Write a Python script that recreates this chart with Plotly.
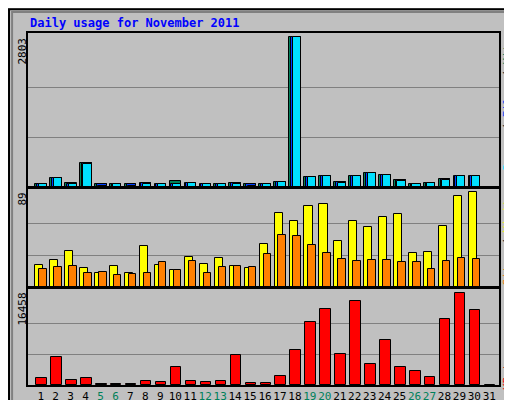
import plotly.graph_objects as go

days = list(range(1, 32))
hits   = [50,160,80,440,50,50,63,82,50,120,82,63,63,82,50,63,100,2803,178,197,100,197,254,222,140,63,82,158,215,197,0]
files  = [50,160,63,440,50,50,63,82,50,63,82,63,63,82,50,63,100,2803,178,197,100,197,254,222,140,63,82,158,215,197,0]
pages  = [50,160,63,425,25,50,25,63,50,63,82,50,50,63,25,63,100,2803,178,197,82,197,254,222,120,63,82,140,197,197,0]
visits = [21,25,34,18,13,20,13,38,21,16,28,22,27,20,18,40,69,62,76,78,43,62,56,66,68,32,33,57,85,89,0]
sites  = [17,19,20,13,14,11,12,13,23,16,24,13,19,20,19,31,49,48,39,32,26,24,25,25,23,23,17,24,27,26,0]
kbytes = [1320,4930,960,1320,100,100,100,780,600,3300,780,600,780,5290,420,420,1680,6190,11240,13580,5470,15020,3670,7990,3300,2580,1500,11780,16458,13400,0]
weekend = {5,6,12,13,19,20,26,27}
ticktext = [f"<span style='color:#00805A'>{d}</span>" if d in weekend else str(d) for d in days]

fig = go.Figure()
ln = dict(color="black", width=1)
def bar(y, color, off, w, ax):
    fig.add_trace(go.Bar(x=days, y=y, marker=dict(color=color, line=ln), offset=off, width=w,
                         xaxis=ax[0], yaxis=ax[1], showlegend=False))
bar(hits, "#00805A", -0.38, 0.78, ("x", "y"))
bar(files, "#0040FF", -0.26, 0.66, ("x", "y"))
bar(pages, "#00E0FF", -0.14, 0.54, ("x", "y"))
bar(visits, "#FFFF00", -0.36, 0.54, ("x2", "y2"))
bar(sites, "#FF8000", -0.1, 0.5, ("x2", "y2"))
bar(kbytes, "#FF0000", -0.3, 0.7, ("x3", "y3"))

xr = [0.15, 31.65]
common_x = dict(range=xr, showgrid=False, zeroline=False, showline=True, linecolor="black", mirror=True, linewidth=2)
def yax(mx, dom, frac):
    top = mx * frac
    return dict(domain=dom, range=[0, top], tickvals=[mx/3, 2*mx/3], showticklabels=False, ticks="",
                showgrid=True, gridcolor="#808080", gridwidth=1, zeroline=False,
                showline=True, linecolor="black", mirror=True, linewidth=2)
xd = [20/512, 491/512]
fig.update_layout(
    width=512, height=400, margin=dict(l=0, r=0, t=0, b=0),
    paper_bgcolor="#C0C0C0", plot_bgcolor="#C0C0C0", barmode="overlay", bargap=0,
    font=dict(family="DejaVu Sans Mono", size=11, color="black"),
    xaxis=dict(domain=xd, anchor="y", showticklabels=False, **common_x),
    xaxis2=dict(domain=xd, anchor="y2", showticklabels=False, **common_x),
    xaxis3=dict(domain=xd, anchor="y3", tickvals=days, ticktext=ticktext, ticks="", tickangle=0,
                tickfont=dict(size=11), automargin=False, **common_x),
    yaxis=yax(2803, [0.5525, 0.9375], 152/148),
    yaxis2=yax(89, [0.3025, 0.55], 98/94),
    yaxis3=yax(16458, [0.0575, 0.3], 97/92),
)
anns = [
    dict(text="<b>Daily usage for November 2011</b>", x=20/512, y=1-15/400, xanchor="left", yanchor="middle",
         font=dict(color="#0000FF", size=12)),
    dict(text="2803", x=14/512, y=1-28/400, textangle=-90, xanchor="center", yanchor="top"),
    dict(text="89", x=14/512, y=1-183/400, textangle=-90, xanchor="center", yanchor="top"),
    dict(text="16458", x=14/512, y=1-283/400, textangle=-90, xanchor="center", yanchor="top"),
    dict(text="<span style='color:#00E0FF'>Pages</span> / <span style='color:#0040FF'>Files</span> / <span style='color:#00805A'>Hits</span>",
         x=499/512, y=1-28/400, textangle=-90, xanchor="center", yanchor="top"),
    dict(text="<span style='color:#FF8000'>Sites</span> / <span style='color:#FFFF00'>Visits</span>",
         x=499/512, y=1-183/400, textangle=-90, xanchor="center", yanchor="top"),
    dict(text="<span style='color:#FF0000'>KBytes</span>",
         x=499/512, y=1-340/400, textangle=-90, xanchor="center", yanchor="top"),
]
for a in anns:
    a.update(xref="paper", yref="paper", showarrow=False)
    a.setdefault("font", dict(size=11))
fig.update_layout(annotations=anns)
fig.update_layout(shapes=[
    dict(type="rect", xref="paper", yref="paper", x0=0.002, y0=0.003, x1=0.998, y1=0.997,
         line=dict(color="black", width=2), layer="below"),
    dict(type="rect", xref="paper", yref="paper", x0=0.008, y0=0.01, x1=0.99, y1=0.99,
         line=dict(color="#808080", width=2), layer="below"),
])
fig.write_html("out.html")
